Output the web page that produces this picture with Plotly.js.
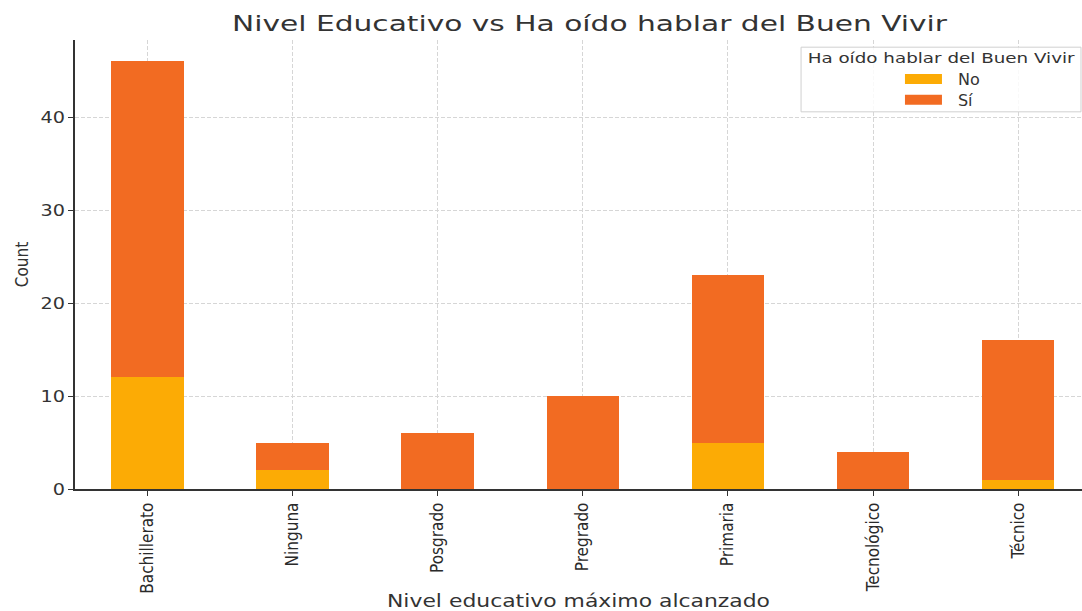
<!DOCTYPE html>
<html>
<head>
<meta charset="utf-8">
<script src="https://cdn.plot.ly/plotly-3.0.1.min.js"></script>
<style>body{margin:0;padding:0;background:#fff;} #chart{width:1082px;height:611px;}</style>
</head>
<body>
<div id="chart"></div>
<script>
const categories = ["Bachillerato", "Ninguna", "Posgrado", "Pregrado", "Primaria", "Tecnológico", "Técnico"];
const noValues = [12, 2, 0, 0, 5, 0, 1];
const siValues = [34, 3, 6, 10, 18, 4, 15];
const seriesNames = ["No", "Sí"];
const legendTitle = "Ha oído hablar del Buen Vivir";
const colors = ["#FCAB05", "#F26B22"];

const traces = [
  {type: "bar", name: seriesNames[0], x: categories, y: noValues, marker: {color: colors[0], line: {width: 0}}, width: 0.5},
  {type: "bar", name: seriesNames[1], x: categories, y: siValues, marker: {color: colors[1], line: {width: 0}}, width: 0.5}
];

const font = "DejaVu Sans, sans-serif";
const condensed = "DejaVu Sans Condensed, DejaVu Sans, sans-serif";
const layout = {
  width: 1082, height: 611,
  barmode: "stack",
  margin: {l: 75, r: 0, t: 40, b: 122},
  paper_bgcolor: "#fff", plot_bgcolor: "#fff",
  font: {family: font, color: "#333", size: 15},
  title: {text: "Nivel Educativo vs Ha oído hablar del Buen Vivir", font: {size: 21, family: font, color: "#333"},
          xref: "paper", x: 0.511, xanchor: "center", y: 0.962, yanchor: "middle"},
  xaxis: {
    type: "category",
    range: [-0.5, 6.44],
    tickangle: -90,
    tickfont: {family: condensed, size: 17, color: "#2a2a2a"},
    showgrid: true, gridcolor: "#d6d6d6", griddash: "4px,2px", gridwidth: 1,
    showline: true, linecolor: "#333", linewidth: 1.5,
    ticks: "outside", ticklen: 5, tickcolor: "#333",
    title: {text: "Nivel educativo máximo alcanzado", font: {size: 17, family: font, color: "#333"}, standoff: 10},
    zeroline: false
  },
  yaxis: {
    range: [0, 48.3],
    tickvals: [0, 10, 20, 30, 40],
    tickfont: {size: 16, family: font, color: "#333"},
    showgrid: true, gridcolor: "#d6d6d6", griddash: "4px,2px", gridwidth: 1,
    showline: true, linecolor: "#333", linewidth: 1.5,
    ticks: "outside", ticklen: 5, tickcolor: "#333",
    title: {text: "Count", font: {size: 17, family: condensed, color: "#333"}, standoff: 12},
    zeroline: false
  },
  shapes: [{
    type: "rect", xref: "paper", yref: "paper", layer: "above",
    x0: 0.721, x1: 0.999, y0: 0.84, y1: 0.984,
    line: {color: "#d0d0d0", width: 1}, fillcolor: "rgba(255,255,255,0.85)"
  }],
  annotations: [{
    text: legendTitle, xref: "paper", yref: "paper", x: 0.86, y: 0.96,
    xanchor: "center", yanchor: "middle", showarrow: false,
    font: {size: 14, family: font, color: "#333"}
  }],
  legend: {
    x: 0.8083, xanchor: "left", y: 0.951, yanchor: "top",
    bgcolor: "rgba(0,0,0,0)", borderwidth: 0,
    itemwidth: 59,
    font: {size: 16, family: font, color: "#333"},
    traceorder: "normal", tracegroupgap: 0
  },
  showlegend: true
};

function stretch(el, target) {
  const w = el.getComputedTextLength();
  if (!w) return;
  el.setAttribute("textLength", target);
  el.setAttribute("lengthAdjust", "spacingAndGlyphs");
}

Plotly.newPlot("chart", traces, layout, {displayModeBar: false}).then(function (gd) {
  const q = s => Array.from(gd.querySelectorAll(s));
  q(".gtitle").forEach(el => stretch(el, 715));
  q(".xtitle").forEach(el => stretch(el, 383));
  q(".annotation-text").forEach(el => stretch(el, 267));
  q(".ytick text").forEach(el => stretch(el, el.getComputedTextLength() * 1.2));
  q(".legendpoints path").forEach(el => { el.setAttribute("d", "M18.5,5H-18.5V-5H18.5Z"); });
  q(".legend .traces").forEach((el, i) => {
    const t = el.getAttribute("transform") || "";
    const m = t.match(/translate\(\s*([-\d.]+)[ ,]+([-\d.]+)\s*\)/);
    if (m) el.setAttribute("transform", "translate(" + m[1] + "," + (parseFloat(m[2]) - 3 * i) + ")");
  });
});
</script>
</body>
</html>
